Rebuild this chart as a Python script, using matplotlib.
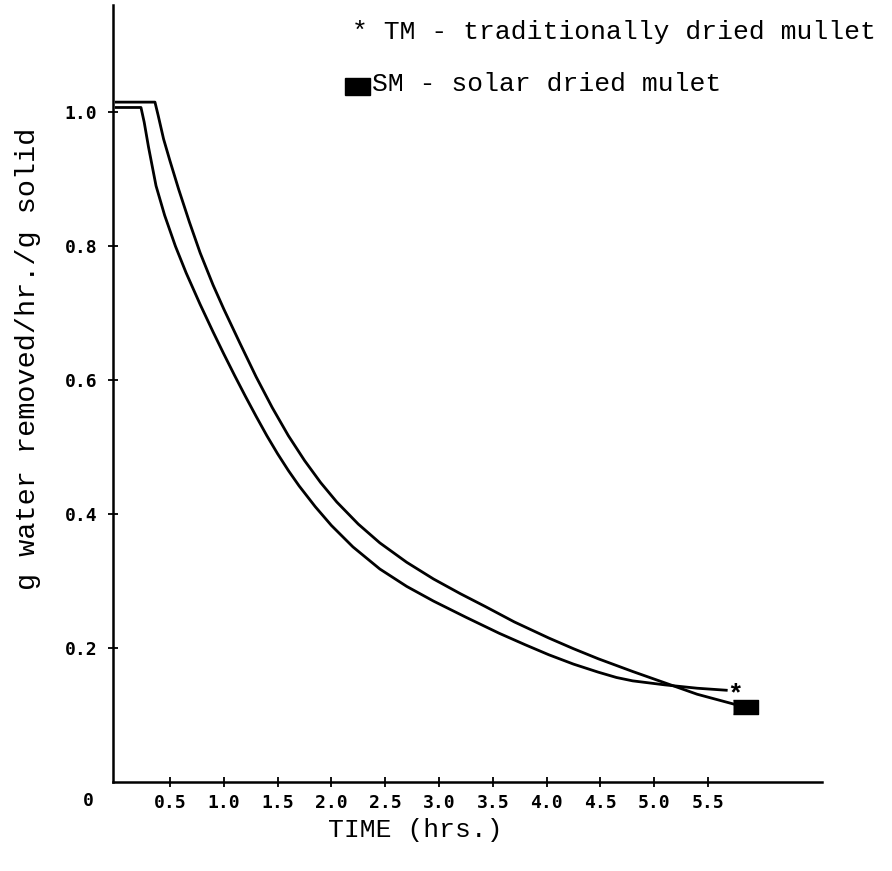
import matplotlib
matplotlib.use("Agg")
import matplotlib.pyplot as plt

# ---- data ----
tm_time = [0.00, 0.23, 0.26, 0.30, 0.37, 0.45, 0.55, 0.65, 0.78, 0.90, 1.00,
           1.10, 1.20, 1.30, 1.40, 1.50, 1.60, 1.70, 1.85, 2.00, 2.20, 2.45,
           2.70, 2.95, 3.25, 3.56, 3.80, 4.02, 4.25, 4.48, 4.65, 4.80, 5.10,
           5.40, 5.67]
tm_rate = [1.007, 1.007, 0.985, 0.948, 0.890, 0.846, 0.800, 0.760, 0.713, 0.672, 0.639,
           0.607, 0.576, 0.546, 0.517, 0.490, 0.465, 0.442, 0.411, 0.383, 0.351, 0.318,
           0.292, 0.270, 0.246, 0.222, 0.205, 0.190, 0.176, 0.164, 0.156, 0.151, 0.145,
           0.140, 0.137]

sm_time = [0.00, 0.36, 0.39, 0.44, 0.50, 0.58, 0.68, 0.78, 0.90, 1.00, 1.15,
           1.30, 1.45, 1.60, 1.75, 1.90, 2.05, 2.25, 2.45, 2.70, 2.95, 3.20,
           3.43, 3.70, 4.02, 4.25, 4.48, 4.80, 5.10, 5.40, 5.84]
sm_rate = [1.015, 1.015, 0.995, 0.960, 0.927, 0.885, 0.836, 0.790, 0.742, 0.706, 0.655,
           0.605, 0.559, 0.517, 0.480, 0.447, 0.418, 0.385, 0.357, 0.328, 0.303, 0.281,
           0.262, 0.239, 0.215, 0.199, 0.184, 0.165, 0.148, 0.131, 0.112]

x_ticks = [0.5, 1.0, 1.5, 2.0, 2.5, 3.0, 3.5, 4.0, 4.5, 5.0, 5.5]
x_labels = ["0.5", "1.0", "1.5", "2.0", "2.5", "3.0", "3.5", "4.0", "4.5", "5.0", "5.5"]
y_ticks = [0.2, 0.4, 0.6, 0.8, 1.0]
y_labels = ["0.2", "0.4", "0.6", "0.8", "1.0"]

legend_tm = "* TM - traditionally dried mullet"
legend_sm = "SM - solar dried mulet"
x_title = "TIME (hrs.)"
y_title = "g water removed/hr./g solid"

# ---- figure ----
W, H = 892, 871
fig = plt.figure(figsize=(W / 100, H / 100), dpi=100)
ax = fig.add_axes([113 / W, 1 - 782 / H, (822 - 113) / W, (782 - 5) / H])

ax.set_xlim(-0.03, 6.56)
ax.set_ylim(0.0, 1.16)

mono = "Liberation Mono"
tickfont = dict(family="DejaVu Sans Mono", size=13, weight="bold")

ax.plot(tm_time, tm_rate, color="black", lw=2.0, solid_joinstyle="round")
ax.plot(sm_time, sm_rate, color="black", lw=2.0, solid_joinstyle="round")

rect = [(-1, -0.55), (1, -0.55), (1, 0.55), (-1, 0.55)]
ax.plot([sm_time[-1]], [sm_rate[-1]], marker=rect, markersize=18,
        color="black", linestyle="none")
ax.annotate("*", xy=(tm_time[-1], tm_rate[-1]), xytext=(1, -3),
            textcoords="offset points", fontfamily=mono, fontsize=19,
            ha="left", va="center", fontweight="bold")

for s in ["top", "right"]:
    ax.spines[s].set_visible(False)
for s in ["left", "bottom"]:
    ax.spines[s].set_linewidth(1.8)

ax.set_xticks(x_ticks)
ax.set_xticklabels(x_labels, fontdict=tickfont)
ax.set_yticks(y_ticks)
ax.set_yticklabels(y_labels, fontdict=tickfont)
ax.tick_params(axis="both", direction="inout", length=7, width=1.3, pad=5)
ax.tick_params(axis="y", pad=8)

# origin label
fig.text(88 / W, 1 - 801 / H, "0", ha="center", va="center", **tickfont)

# axis titles
fig.text(415 / W, 1 - 830 / H, x_title, ha="center", va="center",
         family=mono, fontsize=19)
fig.text(28 / W, 1 - 359 / H, y_title, ha="center", va="center",
         family=mono, fontsize=20.5, rotation=90)

# legend
fig.text(352 / W, 1 - 32 / H, legend_tm, ha="left", va="center",
         family=mono, fontsize=19)
fig.text(372 / W, 1 - 84 / H, legend_sm, ha="left", va="center",
         family=mono, fontsize=19)
fig.patches.append(plt.Rectangle((345 / W, 1 - 95 / H), 25 / W, 17 / H,
                                 transform=fig.transFigure, color="black"))

fig.savefig("out.png", dpi=100)
